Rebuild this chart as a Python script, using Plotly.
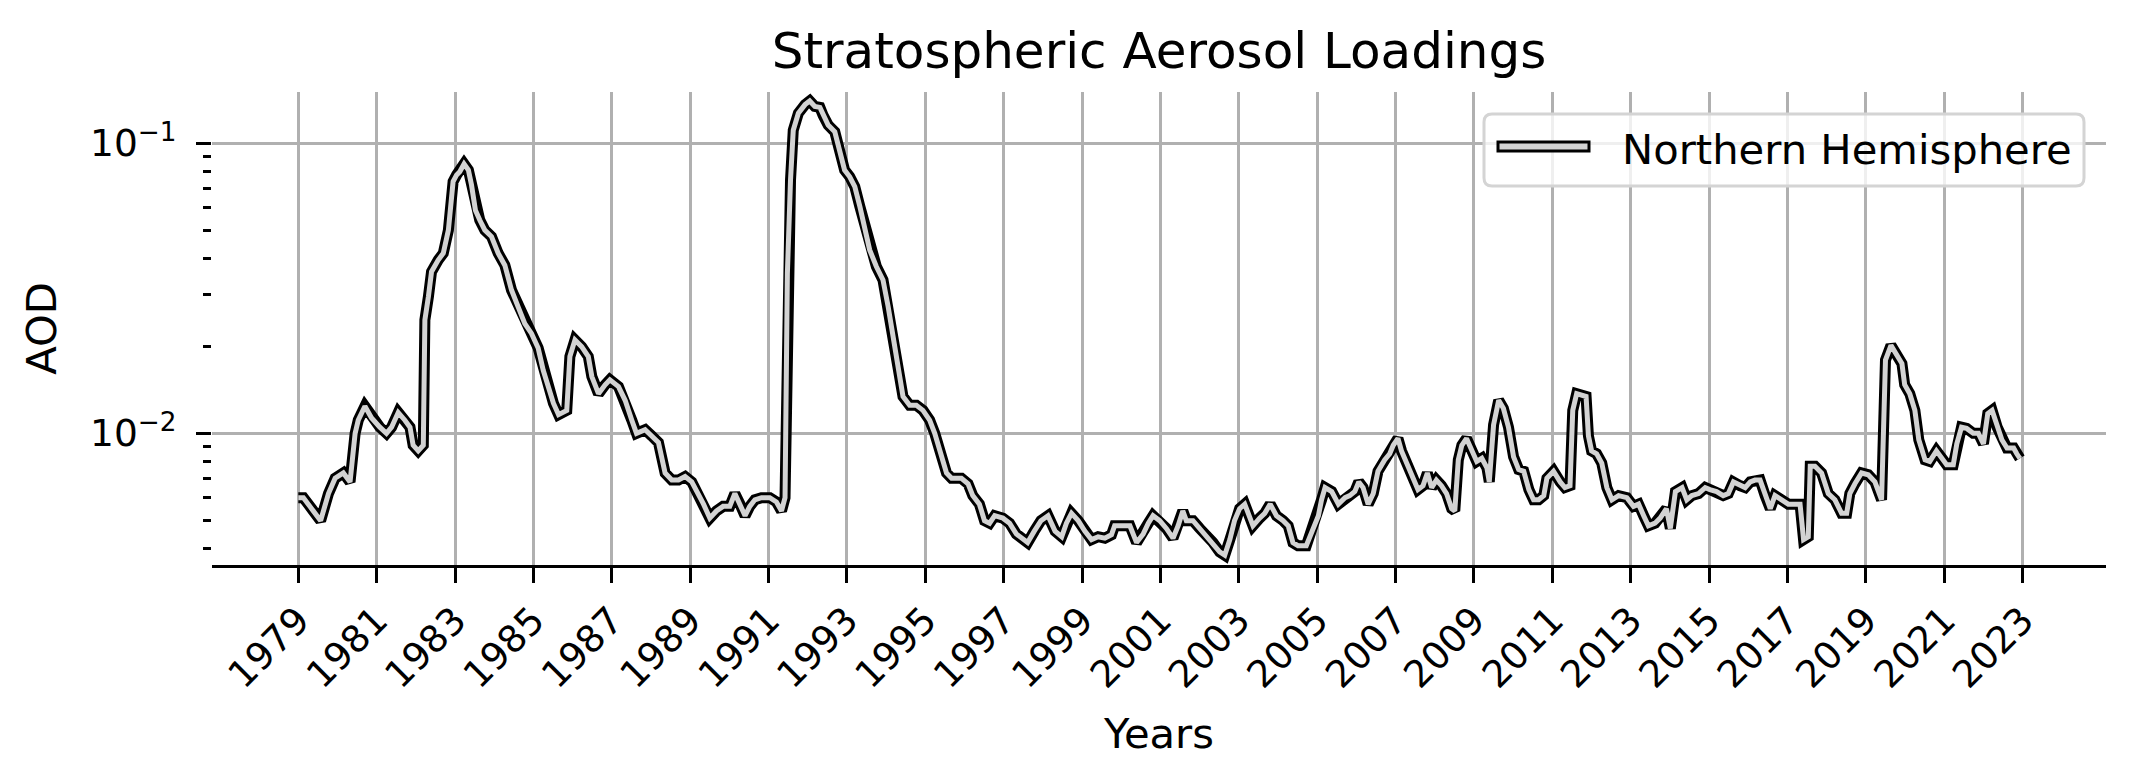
import plotly.graph_objects as go

# ---- data (decimal year, AOD) ----
years = [
    1979.00, 1979.13, 1979.34, 1979.51, 1979.57, 1979.77, 1979.94, 1980.15, 1980.32, 1980.45,
    1980.53, 1980.70, 1980.87, 1981.08, 1981.25, 1981.38, 1981.55, 1981.72, 1981.85, 1981.93,
    1982.06, 1982.19, 1982.23, 1982.32, 1982.40, 1982.57, 1982.70, 1982.83, 1982.91, 1982.95,
    1983.04, 1983.12, 1983.23, 1983.34, 1983.42, 1983.52, 1983.63, 1983.76, 1983.93, 1984.10,
    1984.27, 1984.44, 1984.61, 1984.78, 1984.95, 1985.12, 1985.25, 1985.34, 1985.51, 1985.64,
    1985.85, 1985.93, 1986.06, 1986.23, 1986.40, 1986.49, 1986.66, 1986.83, 1986.95, 1987.17,
    1987.34, 1987.51, 1987.63, 1987.85, 1988.02, 1988.19, 1988.36, 1988.53, 1988.70, 1988.87,
    1989.04, 1989.21, 1989.34, 1989.50, 1989.67, 1989.84, 1990.01, 1990.14, 1990.27, 1990.40,
    1990.52, 1990.65, 1990.82, 1991.03, 1991.20, 1991.33, 1991.42, 1991.48, 1991.56, 1991.63,
    1991.76, 1991.93, 1992.05, 1992.18, 1992.31, 1992.39, 1992.52, 1992.69, 1992.82, 1992.94,
    1993.07, 1993.20, 1993.33, 1993.45, 1993.58, 1993.75, 1993.92, 1994.05, 1994.18, 1994.31,
    1994.43, 1994.60, 1994.77, 1994.94, 1995.11, 1995.24, 1995.37, 1995.45, 1995.54, 1995.67,
    1995.92, 1996.09, 1996.21, 1996.38, 1996.51, 1996.64, 1996.77, 1996.98, 1997.15, 1997.32,
    1997.49, 1997.61, 1997.78, 1997.95, 1998.13, 1998.31, 1998.48, 1998.60, 1998.73, 1998.90,
    1999.07, 1999.24, 1999.41, 1999.58, 1999.75, 1999.83, 2000.00, 2000.22, 2000.39, 2000.56,
    2000.69, 2000.81, 2000.98, 2001.15, 2001.32, 2001.45, 2001.57, 2001.66, 2001.83, 2002.00,
    2002.17, 2002.34, 2002.51, 2002.64, 2002.77, 2002.89, 2003.02, 2003.15, 2003.28, 2003.36,
    2003.53, 2003.66, 2003.80, 2003.96, 2004.13, 2004.26, 2004.38, 2004.51, 2004.72, 2004.86,
    2005.03, 2005.11, 2005.20, 2005.37, 2005.54, 2005.71, 2005.83, 2005.96, 2006.06, 2006.17,
    2006.30, 2006.43, 2006.55, 2006.72, 2006.85, 2006.94, 2007.06, 2007.15, 2007.27, 2007.40,
    2007.57, 2007.70, 2007.81, 2007.92, 2008.04, 2008.17, 2008.30, 2008.43, 2008.51, 2008.60,
    2008.69, 2008.81, 2008.94, 2009.07, 2009.20, 2009.33, 2009.39, 2009.50, 2009.63, 2009.75,
    2009.88, 2010.01, 2010.14, 2010.27, 2010.40, 2010.52, 2010.65, 2010.78, 2010.86, 2011.03,
    2011.20, 2011.32, 2011.45, 2011.52, 2011.62, 2011.75, 2011.86, 2011.92, 2012.00, 2012.13,
    2012.26, 2012.39, 2012.52, 2012.69, 2012.90, 2013.07, 2013.20, 2013.33, 2013.45, 2013.62,
    2013.75, 2013.91, 2014.01, 2014.14, 2014.31, 2014.43, 2014.56, 2014.73, 2014.90, 2015.02,
    2015.19, 2015.36, 2015.49, 2015.62, 2015.79, 2015.92, 2016.05, 2016.17, 2016.30, 2016.43,
    2016.56, 2016.68, 2016.85, 2017.02, 2017.19, 2017.32, 2017.41, 2017.53, 2017.58, 2017.70,
    2017.87, 2018.04, 2018.21, 2018.38, 2018.51, 2018.59, 2018.72, 2018.89, 2019.06, 2019.23,
    2019.40, 2019.50, 2019.64, 2019.78, 2019.92, 2019.99, 2020.12, 2020.25, 2020.35, 2020.51,
    2020.63, 2020.80, 2020.93, 2021.06, 2021.23, 2021.32, 2021.44, 2021.57, 2021.74, 2021.87,
    2022.00, 2022.11, 2022.22, 2022.35, 2022.47, 2022.60, 2022.77, 2022.85, 2022.93,
]
aod = [
    0.0060, 0.0060, 0.0055, 0.0051, 0.0050, 0.0062, 0.0070, 0.0073, 0.0068, 0.0100,
    0.0111, 0.0124, 0.0113, 0.0105, 0.0100, 0.0105, 0.0118, 0.0111, 0.0105, 0.0091,
    0.0087, 0.0091, 0.0246, 0.0296, 0.0361, 0.0396, 0.0418, 0.0502, 0.0638, 0.0738,
    0.0778, 0.0798, 0.0849, 0.0809, 0.0718, 0.0588, 0.0544, 0.0502, 0.0477, 0.0418,
    0.0380, 0.0312, 0.0273, 0.0239, 0.0221, 0.0197, 0.0165, 0.0150, 0.0127, 0.0116,
    0.0120, 0.0184, 0.0210, 0.0199, 0.0184, 0.0157, 0.0137, 0.0147, 0.0153, 0.0145,
    0.0130, 0.0111, 0.0100, 0.0103, 0.0098, 0.0093, 0.0073, 0.0069, 0.0069, 0.0071,
    0.0068, 0.0062, 0.0057, 0.0051, 0.0054, 0.0056, 0.0056, 0.0062, 0.0057, 0.0052,
    0.0056, 0.0059, 0.0060, 0.0060, 0.0058, 0.0054, 0.0060, 0.0356, 0.0748, 0.1110,
    0.1270, 0.1360, 0.1400, 0.1340, 0.1330, 0.1250, 0.1156, 0.1096, 0.0948, 0.0809,
    0.0767, 0.0709, 0.0605, 0.0516, 0.0429, 0.0376, 0.0338, 0.0274, 0.0210, 0.0161,
    0.0134, 0.0125, 0.0125, 0.0120, 0.0111, 0.0100, 0.0088, 0.0079, 0.0073, 0.0070,
    0.0070, 0.0067, 0.0061, 0.0057, 0.0050, 0.0049, 0.0052, 0.0051, 0.0049, 0.0045,
    0.0043, 0.0042, 0.0046, 0.0050, 0.0052, 0.0046, 0.0044, 0.0049, 0.0053, 0.0050,
    0.0046, 0.0043, 0.0044, 0.00435, 0.00447, 0.0048, 0.0048, 0.0048, 0.0042, 0.0045,
    0.0049, 0.0052, 0.0050, 0.0047, 0.00435, 0.0048, 0.0054, 0.0050, 0.0050, 0.0047,
    0.00447, 0.0042, 0.0039, 0.0038, 0.0043, 0.0050, 0.0055, 0.0057, 0.0051, 0.0048,
    0.0051, 0.0053, 0.0057, 0.0052, 0.0050, 0.0048, 0.0042, 0.0041, 0.0041, 0.0046,
    0.0052, 0.0059, 0.0065, 0.0063, 0.0057, 0.0060, 0.0061, 0.0063, 0.0068, 0.0065,
    0.0057, 0.0062, 0.0074, 0.0081, 0.0085, 0.0091, 0.0096, 0.0087, 0.0080, 0.0072,
    0.0064, 0.0066, 0.0073, 0.0065, 0.0069, 0.0066, 0.0062, 0.0055, 0.0054, 0.0081,
    0.0091, 0.0096, 0.0088, 0.0080, 0.0082, 0.0076, 0.0068, 0.0107, 0.0130, 0.0122,
    0.0105, 0.0083, 0.0075, 0.0074, 0.0064, 0.0059, 0.0059, 0.0061, 0.0070, 0.0074,
    0.0068, 0.0065, 0.0066, 0.0120, 0.0137, 0.0135, 0.0134, 0.0098, 0.0087, 0.0085,
    0.0079, 0.0065, 0.0059, 0.0061, 0.0060, 0.0056, 0.0057, 0.0052, 0.0048, 0.0049,
    0.0051, 0.0055, 0.0047, 0.0063, 0.0065, 0.0059, 0.0061, 0.0062, 0.0065, 0.0064,
    0.0063, 0.0061, 0.0062, 0.0068, 0.0066, 0.0065, 0.0068, 0.0069, 0.0069, 0.0061,
    0.0055, 0.0061, 0.0059, 0.0057, 0.0057, 0.0057, 0.0043, 0.0044, 0.0077, 0.0077,
    0.0073, 0.0062, 0.0059, 0.0053, 0.0053, 0.0062, 0.0067, 0.0073, 0.0072, 0.0068,
    0.0059, 0.0179, 0.0201, 0.0188, 0.0174, 0.0147, 0.0137, 0.0120, 0.0095, 0.0081,
    0.0080, 0.0087, 0.0082, 0.0078, 0.0078, 0.0092, 0.0105, 0.0104, 0.0100, 0.0100,
    0.0092, 0.0117, 0.0120, 0.0105, 0.0095, 0.0089, 0.0089, 0.0085, 0.0082,
]
tick_years = list(range(1979, 2024, 2))
tick_labels = [str(y) for y in tick_years]
series_name = "Northern Hemisphere"

# ---- layout geometry (pixels) ----
W, H = 2134, 784
L, R, T, B = 212, 2106, 92, 565
FONT = "DejaVu Sans"
FS = 41.7      # axis titles / legend
TFS = 37.5     # tick labels


def px(x):
    return (x - L) / (R - L)


def py(y):
    return (B - y) / (B - T)


fig = go.Figure()
fig.add_trace(go.Scatter(x=years, y=aod, mode="lines",
                         line=dict(color="black", width=11),
                         showlegend=False, hoverinfo="skip"))
fig.add_trace(go.Scatter(x=years, y=aod, mode="lines", name=series_name,
                         line=dict(color="#d3d3d3", width=5),
                         showlegend=False))

minor_vals = [k * 10 ** e for e in (-3, -2) for k in range(2, 10)]

fig.update_layout(
    width=W, height=H,
    margin=dict(l=L, r=W - R, t=T, b=H - B, autoexpand=False),
    paper_bgcolor="white", plot_bgcolor="white",
    font=dict(family=FONT, size=FS, color="black"),
    title=dict(text="Stratospheric Aerosol Loadings", x=0.5, xref="paper",
               xanchor="center", y=1 - 50 / H, yref="container", yanchor="middle",
               font=dict(size=50, family=FONT, color="black")),
    showlegend=False,
    xaxis=dict(
        range=[1976.798, 2025.127], tickmode="array", tickvals=tick_years,
        ticktext=tick_labels, tickangle=-45, ticks="outside", ticklen=15,
        tickwidth=3.3, tickcolor="black", showline=True, linecolor="black",
        linewidth=3.3, showgrid=True, gridcolor="#b0b0b0", gridwidth=3,
        zeroline=False, automargin=False,
        tickfont=dict(size=TFS, family=FONT, color="black"),
        title=dict(text="Years", standoff=24, font=dict(size=FS, family=FONT)),
    ),
    yaxis=dict(
        type="log", range=[-2.454, -0.823], tickmode="array",
        tickvals=[0.01, 0.1], ticktext=["10<sup>\u22122</sup>", "10<sup>\u22121</sup>"],
        ticks="outside", ticklen=15, tickwidth=3.3, tickcolor="black",
        showline=False, showgrid=True, gridcolor="#b0b0b0", gridwidth=3,
        zeroline=False, automargin=False, ticklabelstandoff=12,
        tickfont=dict(size=TFS, family=FONT, color="black"),
        minor=dict(tickmode="array", tickvals=minor_vals, ticks="outside",
                   ticklen=8, tickwidth=2.5, tickcolor="black", showgrid=False),
        title=dict(text="AOD", standoff=20, font=dict(size=FS, family=FONT)),
    ),
)

# ---- legend (drawn to match the reference's rounded frame and handle) ----
x0, x1, y0, y1, r = 1484, 2084, 114, 186, 8
path = (f"M {px(x0 + r)},{py(y0)} L {px(x1 - r)},{py(y0)} "
        f"Q {px(x1)},{py(y0)} {px(x1)},{py(y0 + r)} L {px(x1)},{py(y1 - r)} "
        f"Q {px(x1)},{py(y1)} {px(x1 - r)},{py(y1)} L {px(x0 + r)},{py(y1)} "
        f"Q {px(x0)},{py(y1)} {px(x0)},{py(y1 - r)} L {px(x0)},{py(y0 + r)} "
        f"Q {px(x0)},{py(y0)} {px(x0 + r)},{py(y0)} Z")
fig.add_shape(type="path", path=path, xref="paper", yref="paper", layer="above",
              fillcolor="rgba(255,255,255,0.8)", line=dict(color="#d4d4d4", width=3))
fig.add_shape(type="rect", xref="paper", yref="paper", layer="above",
              x0=px(1498), x1=px(1589), y0=py(142.0), y1=py(151.0),
              fillcolor="#d3d3d3", line=dict(color="black", width=3))
fig.add_annotation(text=series_name, xref="paper", yref="paper",
                   x=px(1620), y=py(149), xanchor="left", yanchor="middle",
                   showarrow=False, font=dict(size=FS, family=FONT, color="black"))

fig.write_html("out.html")
